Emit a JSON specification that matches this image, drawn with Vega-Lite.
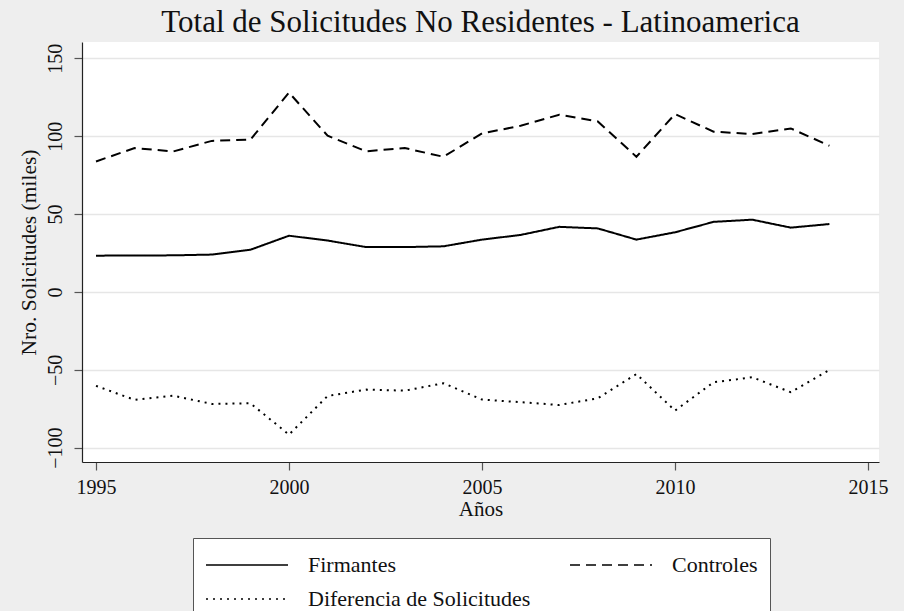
{
  "$schema": "https://vega.github.io/schema/vega-lite/v6.json",
  "width": 797,
  "height": 420,
  "autosize": "none",
  "padding": {"left": 82, "top": 42, "right": 25, "bottom": 149},
  "background": "#eeeeee",
  "title": {
    "text": "Total de Solicitudes No Residentes - Latinoamerica",
    "font": "Liberation Serif",
    "fontSize": 31,
    "fontWeight": "normal",
    "color": "#111111",
    "anchor": "middle",
    "offset": 3
  },
  "config": {
    "font": "Liberation Serif",
    "view": {"stroke": null, "fill": "white"},
    "title": {"font": "Liberation Serif"},
    "axis": {
      "labelFont": "Liberation Serif",
      "titleFont": "Liberation Serif",
      "labelColor": "#111111",
      "titleColor": "#111111",
      "titleFontWeight": "normal",
      "domainColor": "#222222",
      "domainWidth": 1.2,
      "tickColor": "#555555",
      "tickWidth": 1.2,
      "tickSize": 8
    },
    "legend": {
      "labelFont": "Liberation Serif"
    }
  },
  "data": {
    "values": [
      {"year": 1995, "serie": "Firmantes", "value": 23.3},
      {"year": 1996, "serie": "Firmantes", "value": 23.4},
      {"year": 1997, "serie": "Firmantes", "value": 23.5},
      {"year": 1998, "serie": "Firmantes", "value": 24.0},
      {"year": 1999, "serie": "Firmantes", "value": 27.1},
      {"year": 2000, "serie": "Firmantes", "value": 36.1},
      {"year": 2001, "serie": "Firmantes", "value": 33.0},
      {"year": 2002, "serie": "Firmantes", "value": 28.8},
      {"year": 2003, "serie": "Firmantes", "value": 28.8},
      {"year": 2004, "serie": "Firmantes", "value": 29.3},
      {"year": 2005, "serie": "Firmantes", "value": 33.6},
      {"year": 2006, "serie": "Firmantes", "value": 36.6},
      {"year": 2007, "serie": "Firmantes", "value": 41.8},
      {"year": 2008, "serie": "Firmantes", "value": 40.8},
      {"year": 2009, "serie": "Firmantes", "value": 33.6},
      {"year": 2010, "serie": "Firmantes", "value": 38.3},
      {"year": 2011, "serie": "Firmantes", "value": 45.0},
      {"year": 2012, "serie": "Firmantes", "value": 46.4},
      {"year": 2013, "serie": "Firmantes", "value": 41.3},
      {"year": 2014, "serie": "Firmantes", "value": 43.6},
      {"year": 1995, "serie": "Controles", "value": 83.8},
      {"year": 1996, "serie": "Controles", "value": 92.4},
      {"year": 1997, "serie": "Controles", "value": 90.2},
      {"year": 1998, "serie": "Controles", "value": 97.0},
      {"year": 1999, "serie": "Controles", "value": 97.8},
      {"year": 2000, "serie": "Controles", "value": 128.0},
      {"year": 2001, "serie": "Controles", "value": 100.3},
      {"year": 2002, "serie": "Controles", "value": 90.3},
      {"year": 2003, "serie": "Controles", "value": 92.4},
      {"year": 2004, "serie": "Controles", "value": 86.8},
      {"year": 2005, "serie": "Controles", "value": 101.8},
      {"year": 2006, "serie": "Controles", "value": 106.7},
      {"year": 2007, "serie": "Controles", "value": 113.8},
      {"year": 2008, "serie": "Controles", "value": 109.5},
      {"year": 2009, "serie": "Controles", "value": 86.8},
      {"year": 2010, "serie": "Controles", "value": 114.2},
      {"year": 2011, "serie": "Controles", "value": 102.9},
      {"year": 2012, "serie": "Controles", "value": 101.4},
      {"year": 2013, "serie": "Controles", "value": 105.0},
      {"year": 2014, "serie": "Controles", "value": 93.9},
      {"year": 1995, "serie": "Diferencia de Solicitudes", "value": -60.3},
      {"year": 1996, "serie": "Diferencia de Solicitudes", "value": -69.3},
      {"year": 1997, "serie": "Diferencia de Solicitudes", "value": -66.6},
      {"year": 1998, "serie": "Diferencia de Solicitudes", "value": -71.9},
      {"year": 1999, "serie": "Diferencia de Solicitudes", "value": -71.5},
      {"year": 2000, "serie": "Diferencia de Solicitudes", "value": -91.6},
      {"year": 2001, "serie": "Diferencia de Solicitudes", "value": -66.8},
      {"year": 2002, "serie": "Diferencia de Solicitudes", "value": -62.7},
      {"year": 2003, "serie": "Diferencia de Solicitudes", "value": -63.4},
      {"year": 2004, "serie": "Diferencia de Solicitudes", "value": -58.6},
      {"year": 2005, "serie": "Diferencia de Solicitudes", "value": -69.1},
      {"year": 2006, "serie": "Diferencia de Solicitudes", "value": -70.8},
      {"year": 2007, "serie": "Diferencia de Solicitudes", "value": -72.6},
      {"year": 2008, "serie": "Diferencia de Solicitudes", "value": -68.3},
      {"year": 2009, "serie": "Diferencia de Solicitudes", "value": -52.7},
      {"year": 2010, "serie": "Diferencia de Solicitudes", "value": -76.2},
      {"year": 2011, "serie": "Diferencia de Solicitudes", "value": -58.0},
      {"year": 2012, "serie": "Diferencia de Solicitudes", "value": -54.8},
      {"year": 2013, "serie": "Diferencia de Solicitudes", "value": -64.4},
      {"year": 2014, "serie": "Diferencia de Solicitudes", "value": -50.1}
    ]
  },
  "mark": {"type": "line", "strokeWidth": 2, "color": "#000000"},
  "encoding": {
    "x": {
      "field": "year",
      "type": "quantitative",
      "scale": {"domain": [1994.637, 2015.285], "nice": false, "zero": false},
      "axis": {
        "values": [1995, 2000, 2005, 2010, 2015],
        "format": "d",
        "title": "Años",
        "grid": false,
        "labelFontSize": 20,
        "titleFontSize": 21,
        "labelPadding": 7,
        "titlePadding": 1,
        "labelFlush": false
      }
    },
    "y": {
      "field": "value",
      "type": "quantitative",
      "scale": {"domain": [-109.2, 160.5], "nice": false, "zero": false},
      "axis": {
        "values": [-100, -50, 0, 50, 100, 150],
        "title": "Nro. Solicitudes (miles)",
        "grid": true,
        "gridColor": "#e6e6e6",
        "gridWidth": 1.6,
        "labelAngle": -90,
        "labelAlign": "center",
        "labelBaseline": "bottom",
        "labelFontSize": 20,
        "titleFontSize": 21.5,
        "labelPadding": 9,
        "titlePadding": 5,
        "labelFlush": false
      }
    },
    "strokeDash": {
      "field": "serie",
      "type": "nominal",
      "sort": ["Firmantes", "Controles", "Diferencia de Solicitudes"],
      "scale": {
        "domain": ["Firmantes", "Controles", "Diferencia de Solicitudes"],
        "range": [[1, 0], [10, 6], [2, 5]]
      },
      "legend": {
        "title": null,
        "orient": "none",
        "legendX": 111,
        "legendY": 496,
        "direction": "horizontal",
        "columns": 2,
        "columnPadding": 35,
        "rowPadding": 8,
        "padding": 12,
        "strokeColor": "#555555",
        "fillColor": "#ffffff",
        "symbolType": "M-1,0H4.86",
        "symbolSize": 784,
        "symbolStrokeWidth": 1.6,
        "symbolStrokeColor": "#000000",
        "symbolFillColor": "transparent",
        "labelFont": "Liberation Serif",
        "labelFontSize": 22,
        "labelColor": "#111111",
        "labelOffset": 73,
        "labelLimit": 400
      }
    }
  }
}
